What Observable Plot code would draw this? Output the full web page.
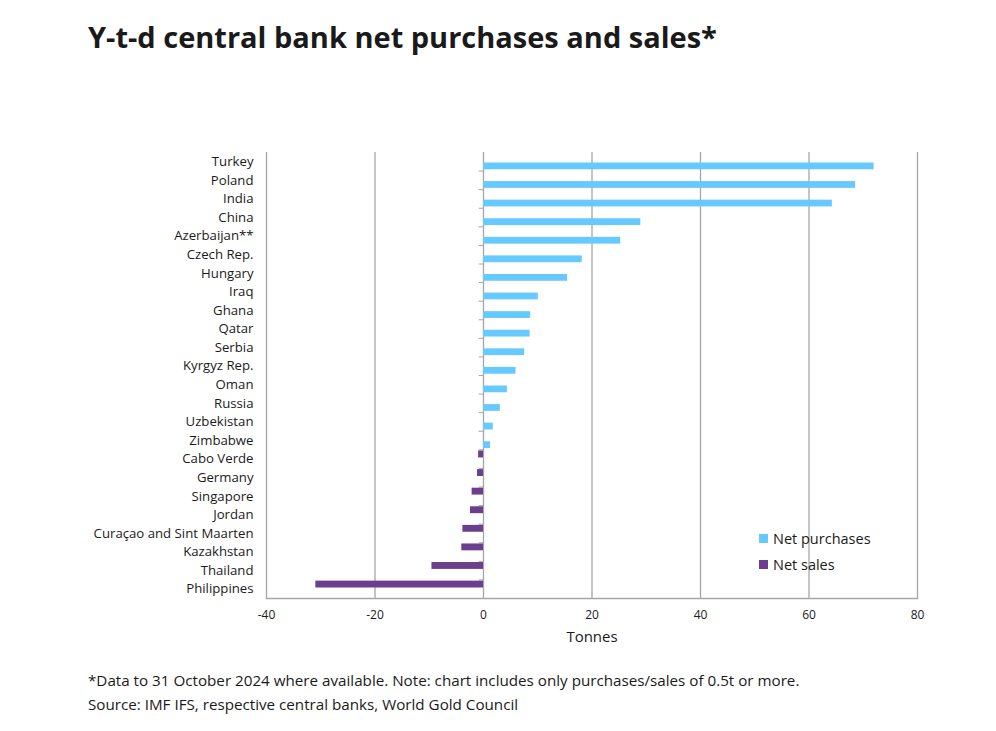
<!DOCTYPE html>
<html>
<head>
<meta charset="utf-8">
<script src="https://cdn.jsdelivr.net/npm/d3@7"></script>
<script src="https://cdn.jsdelivr.net/npm/@observablehq/plot@0.6"></script>
<style>
  body { margin: 0; background: #fff; font-family: "Open Sans", "Noto Sans", sans-serif; color: #1a1a1a; }
  #wrap { position: relative; width: 996px; height: 731px; }
  #title { position: absolute; left: 88px; top: 17px; font-size: 29px; font-weight: 700; white-space: nowrap; }
  #chart { position: absolute; left: 0; top: 140px; }
  #legend { position: absolute; left: 759px; top: 525px; font-size: 14.5px; }
  #legend .row { display: flex; align-items: center; height: 26px; }
  #legend .sw { width: 9px; height: 9px; margin-right: 5px; }
  .note { position: absolute; left: 88px; font-size: 15.2px; white-space: nowrap; }
</style>
</head>
<body>
<div id="wrap">
  <div id="title">Y-t-d central bank net purchases and sales*</div>
  <div id="chart"></div>
  <div id="legend"></div>
  <div class="note" style="top:670px">*Data to 31 October 2024 where available. Note: chart includes only purchases/sales of 0.5t or more.</div>
  <div class="note" style="top:694px">Source: IMF IFS, respective central banks, World Gold Council</div>
</div>
<script>
const countries = ["Turkey","Poland","India","China","Azerbaijan**","Czech Rep.","Hungary","Iraq","Ghana","Qatar","Serbia","Kyrgyz Rep.","Oman","Russia","Uzbekistan","Zimbabwe","Cabo Verde","Germany","Singapore","Jordan","Curaçao and Sint Maarten","Kazakhstan","Thailand","Philippines"];
const values = [72.0, 68.6, 64.3, 29.0, 25.3, 18.2, 15.5, 10.1, 8.7, 8.6, 7.6, 6.0, 4.4, 3.1, 1.8, 1.3, -0.9, -1.1, -2.1, -2.4, -3.8, -4.0, -9.5, -30.9];
const xTicks = [-40, -20, 0, 20, 40, 60, 80];
const seriesNames = ["Net purchases", "Net sales"];
const seriesColors = ["#66c9ff", "#6b3f8e"];

const data = countries.map((c, i) => ({country: c, value: values[i]}));
const purchases = data.filter(d => d.value >= 0);
const sales = data.filter(d => d.value < 0);

const gridColor = "#a6a6a6";

const plot = Plot.plot({
  width: 996,
  height: 520,
  marginLeft: 266,
  marginRight: 79,
  marginTop: 12,
  marginBottom: 62,
  style: {fontFamily: "'Open Sans', 'Noto Sans', sans-serif", fontSize: "12px", color: "#1a1a1a", background: "transparent"},
  x: {domain: [-40, 80], ticks: xTicks},
  y: {type: "band", domain: countries, padding: 0, round: false},
  marks: [
    Plot.ruleX(xTicks, {stroke: gridColor, strokeWidth: 1.3}),
    Plot.frame({anchor: "bottom", stroke: gridColor, strokeWidth: 1.3}),
    Plot.ruleY(countries.slice(1), {y: d => d, x1: -0.8, x2: 0, stroke: gridColor, strokeWidth: 1, dy: -446 / 48}),
    Plot.barX(purchases, {x: "value", y: "country", fill: seriesColors[0], insetTop: 10.5, insetBottom: 1.3}),
    Plot.barX(sales, {x: "value", y: "country", fill: seriesColors[1], insetTop: 1.2, insetBottom: 10.5}),
    Plot.axisY({tickSize: 0, tickPadding: 13, fontSize: 13.2, label: null}),
    Plot.axisX({ticks: xTicks, tickSize: 0, tickPadding: 12, tickFormat: d => String(d), label: null, fontSize: 12}),
    Plot.text(["Tonnes"], {frameAnchor: "bottom", dy: 43, fontSize: 15, fill: "#1a1a1a"})
  ]
});
document.getElementById("chart").appendChild(plot);

const legend = document.getElementById("legend");
seriesNames.forEach((n, i) => {
  const row = document.createElement("div");
  row.className = "row";
  const sw = document.createElement("div");
  sw.className = "sw";
  sw.style.background = seriesColors[i];
  const t = document.createElement("span");
  t.textContent = n;
  row.appendChild(sw);
  row.appendChild(t);
  legend.appendChild(row);
});
</script>
</body>
</html>
